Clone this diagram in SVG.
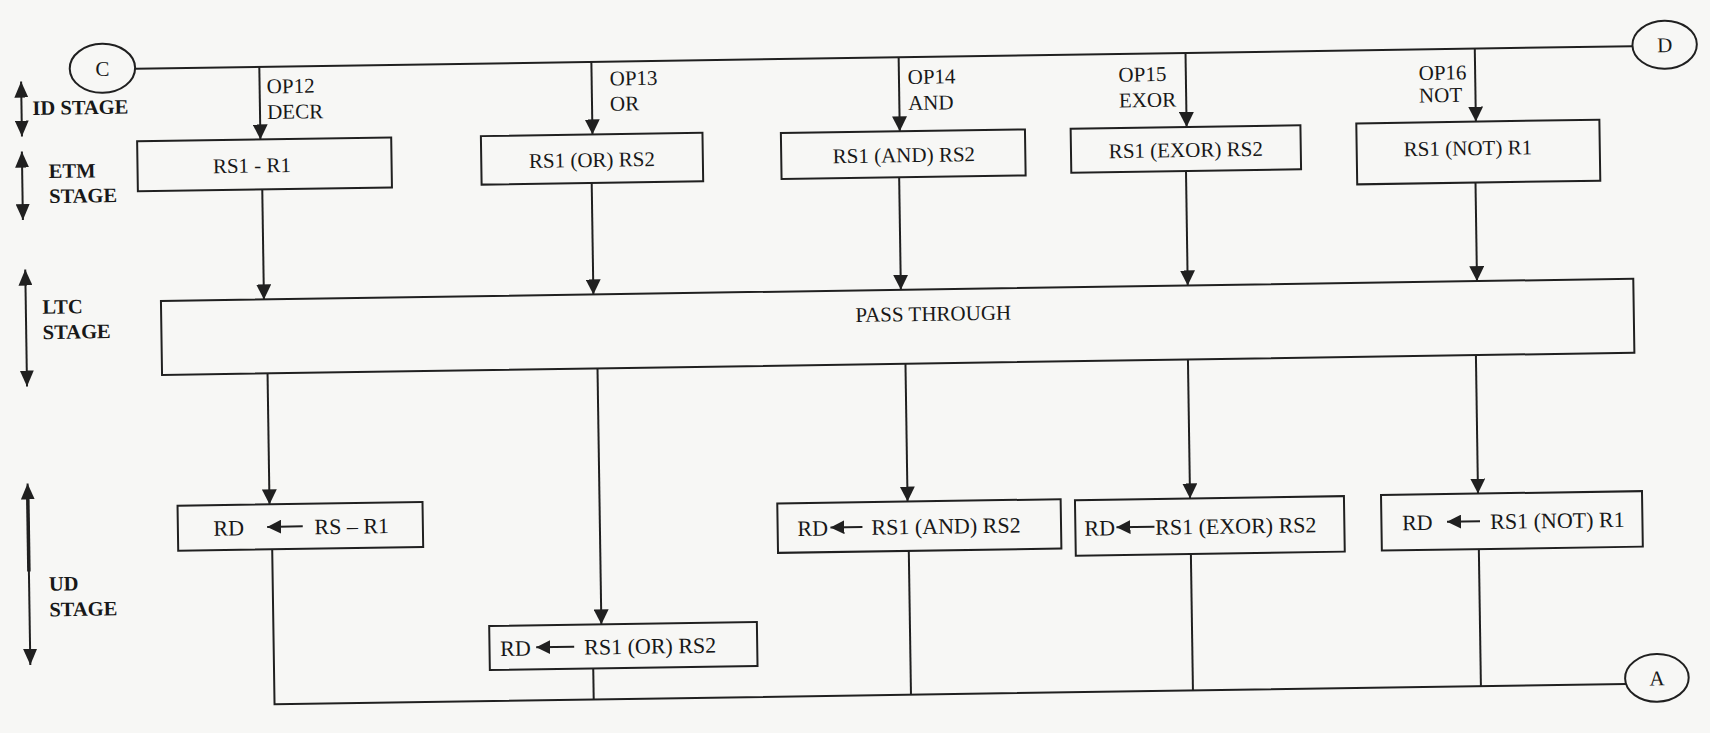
<svg xmlns="http://www.w3.org/2000/svg" width="1710" height="733" viewBox="0 0 1710 733">
  <style>
    .ln{fill:none;stroke:#202020;stroke-width:2}
    .bx{fill:none;stroke:#202020;stroke-width:2}
    .t{font-family:"Liberation Serif","Times New Roman",serif;font-size:21px;fill:#181818}
    .r{font-size:22px}
    .st{font-family:"Liberation Serif","Times New Roman",serif;font-size:20.5px;font-weight:bold;fill:#181818}
    .m{text-anchor:middle}
    .e{text-anchor:end}
  </style>
  <defs>
    <marker id="ah" viewBox="0 0 15 15" refX="15" refY="7.5" markerWidth="15" markerHeight="15" orient="auto" markerUnits="userSpaceOnUse">
      <path d="M0,0 L15,7.5 L0,15 z" fill="#202020"/>
    </marker>
    <marker id="ahd" viewBox="0 0 16 14" refX="16" refY="7" markerWidth="16" markerHeight="14" orient="auto-start-reverse" markerUnits="userSpaceOnUse">
      <path d="M0,0 L16,7 L0,14 z" fill="#202020"/>
    </marker>
    <marker id="ahl" viewBox="0 0 14 14" refX="14" refY="7" markerWidth="14" markerHeight="14" orient="auto" markerUnits="userSpaceOnUse">
      <path d="M0,0 L14,7 L0,14 z" fill="#202020"/>
    </marker>
  </defs>

  <rect width="1710" height="733" fill="#f7f7f5"/>

  <!-- the printed page sits slightly turned -->
  <g transform="rotate(-0.866 855 366)">

    <!-- stage markers on the left -->
    <g id="stages">
      <path class="ln" d="M25.5 69 V124" marker-start="url(#ahd)" marker-end="url(#ahd)"/>
      <text class="st" x="36.5" y="102.6">ID STAGE</text>
      <path class="ln" d="M25.2 139 V207.5" marker-start="url(#ahd)" marker-end="url(#ahd)"/>
      <text class="st" x="51.8" y="165.9">ETM</text>
      <text class="st" x="51.8" y="190.9">STAGE</text>
      <path class="ln" d="M26.8 257 V374" marker-start="url(#ahd)" marker-end="url(#ahd)"/>
      <text class="st" x="43.3" y="301.6">LTC</text>
      <text class="st" x="43.3" y="326.9">STAGE</text>
      <path class="ln" d="M25.9 471 V652.5" marker-start="url(#ahd)" marker-end="url(#ahd)"/>
      <path d="M25.9 481 V559" stroke="#202020" stroke-width="3.5"/>
      <text class="st" x="45.7" y="578.5">UD</text>
      <text class="st" x="45.7" y="604.2">STAGE</text>
    </g>

    <!-- connectors -->
    <g id="connectors">
      <path class="ln" d="M139.7 58 H1637.2"/>
      <path class="ln" d="M263.9 58 V130.5" marker-end="url(#ah)"/>
      <path class="ln" d="M596 58 V130.5" marker-end="url(#ah)"/>
      <path class="ln" d="M903.3 58 V132" marker-end="url(#ah)"/>
      <path class="ln" d="M1190.2 58 V132" marker-end="url(#ah)"/>
      <path class="ln" d="M1479.5 58 V131" marker-end="url(#ah)"/>

      <path class="ln" d="M265 180.5 V290.5" marker-end="url(#ah)"/>
      <path class="ln" d="M594.5 179 V290.5" marker-end="url(#ah)"/>
      <path class="ln" d="M902 178 V290.5" marker-end="url(#ah)"/>
      <path class="ln" d="M1188.9 176 V290.5" marker-end="url(#ah)"/>
      <path class="ln" d="M1478.2 192 V290.5" marker-end="url(#ah)"/>

      <path class="ln" d="M267.5 364.5 V495.5" marker-end="url(#ah)"/>
      <path class="ln" d="M597.5 364.5 V620.5" marker-end="url(#ah)"/>
      <path class="ln" d="M905.5 364.5 V502.3" marker-end="url(#ah)"/>
      <path class="ln" d="M1188 364.5 V503.5" marker-end="url(#ah)"/>
      <path class="ln" d="M1476 364.5 V503" marker-end="url(#ah)"/>

      <path class="ln" d="M269.5 540.5 V695.5 H1621.2"/>
      <path class="ln" d="M588.7 664.5 V695.5"/>
      <path class="ln" d="M906 551.7 V695.5"/>
      <path class="ln" d="M1188 559 V695.5"/>
      <path class="ln" d="M1476 558.5 V695.5"/>

      <g id="op-labels">
        <text class="t" x="271" y="84.5">OP12</text>
        <text class="t" x="271" y="110.2">DECR</text>
        <text class="t" x="614" y="81.8">OP13</text>
        <text class="t" x="614" y="107">OR</text>
        <text class="t" x="912" y="84.8">OP14</text>
        <text class="t" x="912" y="110.8">AND</text>
        <text class="t" x="1122.9" y="85.7">OP15</text>
        <text class="t" x="1122.9" y="111.5">EXOR</text>
        <text class="t" x="1423" y="88.5">OP16</text>
        <text class="t" x="1423" y="111">NOT</text>
      </g>
    </g>

    <!-- off-page connectors -->
    <g id="conn-C">
      <ellipse class="bx" cx="107" cy="57" rx="32.7" ry="24.5"/>
      <text class="t m" x="107" y="64.5">C</text>
    </g>
    <g id="conn-D">
      <ellipse class="bx" cx="1669.4" cy="57" rx="32.2" ry="24"/>
      <text class="t m" x="1669.4" y="64.5">D</text>
    </g>
    <g id="conn-A">
      <ellipse class="bx" cx="1652.1" cy="690" rx="31.8" ry="23.8"/>
      <text class="t m" x="1652.1" y="697.5">A</text>
    </g>

    <!-- ETM stage operations -->
    <g id="etm-decr">
      <rect class="bx" x="140.6" y="130.5" width="254.1" height="50"/>
      <text class="t m" x="255" y="163.5">RS1 - R1</text>
    </g>
    <g id="etm-or">
      <rect class="bx" x="484.4" y="130.5" width="221.6" height="48.5"/>
      <text class="t m" x="595" y="163">RS1 (OR) RS2</text>
    </g>
    <g id="etm-and">
      <rect class="bx" x="784.4" y="132" width="244.1" height="46"/>
      <text class="t m" x="907" y="163">RS1 (AND) RS2</text>
    </g>
    <g id="etm-exor">
      <rect class="bx" x="1074.2" y="132" width="229.8" height="44"/>
      <text class="t m" x="1189" y="162">RS1 (EXOR) RS2</text>
    </g>
    <g id="etm-not">
      <rect class="bx" x="1359.9" y="131" width="243.1" height="61"/>
      <text class="t m" x="1471.1" y="164.5">RS1 (NOT) R1</text>
    </g>

    <!-- LTC stage -->
    <g id="ltc">
      <rect class="bx" x="162" y="290.5" width="1472.5" height="74"/>
      <text class="t m" x="934" y="322">PASS THROUGH</text>
    </g>

    <!-- UD stage write-backs -->
    <g id="ud-decr">
      <rect class="bx" x="175.5" y="495.5" width="245" height="45"/>
      <text class="t r" x="211" y="526">RD</text>
      <path class="ln" d="M300.4 518 H264.8" marker-end="url(#ahl)"/>
      <text class="t r" x="312" y="526">RS – R1</text>
    </g>
    <g id="ud-or">
      <rect class="bx" x="485.3" y="620.5" width="267.7" height="44"/>
      <text class="t r" x="496" y="650.5">RD</text>
      <path class="ln" d="M570 642.5 H532" marker-end="url(#ahl)"/>
      <text class="t r" x="580" y="650.5">RS1 (OR) RS2</text>
    </g>
    <g id="ud-and">
      <rect class="bx" x="775.2" y="502.3" width="283.4" height="49.4"/>
      <text class="t r" x="795" y="535">RD</text>
      <path class="ln" d="M860 527 H828" marker-end="url(#ahl)"/>
      <text class="t r" x="869" y="535">RS1 (AND) RS2</text>
    </g>
    <g id="ud-exor">
      <rect class="bx" x="1072.9" y="503.5" width="269" height="55.5"/>
      <text class="t r" x="1082" y="539.2">RD</text>
      <path class="ln" d="M1152 531.2 H1114" marker-end="url(#ahl)"/>
      <text class="t r e" x="1314" y="539.2">RS1 (EXOR) RS2</text>
    </g>
    <g id="ud-not">
      <rect class="bx" x="1379" y="503" width="261" height="55.5"/>
      <text class="t r" x="1399.6" y="538.5">RD</text>
      <path class="ln" d="M1477.6 530.8 H1444.6" marker-end="url(#ahl)"/>
      <text class="t r m" x="1555" y="538.5">RS1 (NOT) R1</text>
    </g>
  </g>
</svg>
